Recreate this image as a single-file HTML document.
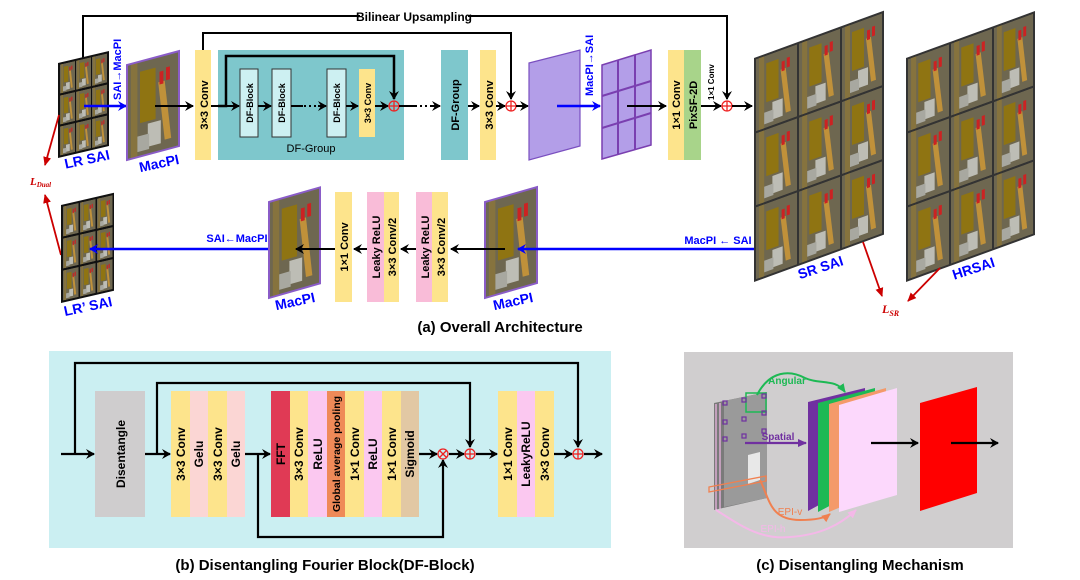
<!DOCTYPE html>
<html><head><meta charset="utf-8"><style>
html,body{margin:0;padding:0;background:#fff;}
svg{display:block;font-family:"Liberation Sans",Arial,sans-serif;}
.b{font-weight:bold;}
</style></head><body>
<svg width="1080" height="580" viewBox="0 0 1080 580" xmlns="http://www.w3.org/2000/svg">
<defs>
<marker id="ak" markerWidth="10" markerHeight="10" refX="8" refY="5" orient="auto" markerUnits="userSpaceOnUse"><path d="M0,0 L9,5 L0,10 L3,5 Z" fill="#000"/></marker>
<marker id="ab" markerWidth="10" markerHeight="10" refX="8" refY="5" orient="auto" markerUnits="userSpaceOnUse"><path d="M0,0 L9,5 L0,10 L3,5 Z" fill="#00f"/></marker>
<marker id="ar" markerWidth="10" markerHeight="10" refX="8" refY="5" orient="auto" markerUnits="userSpaceOnUse"><path d="M0,1 L9,5 L0,9 Z" fill="#c00"/></marker>
<marker id="ag" markerWidth="10" markerHeight="10" refX="8" refY="5" orient="auto" markerUnits="userSpaceOnUse"><path d="M0,1 L9,5 L0,9 Z" fill="#1db954"/></marker>
<marker id="ap" markerWidth="10" markerHeight="10" refX="8" refY="5" orient="auto" markerUnits="userSpaceOnUse"><path d="M0,1 L9,5 L0,9 Z" fill="#7030a0"/></marker>
<marker id="ao" markerWidth="10" markerHeight="10" refX="8" refY="5" orient="auto" markerUnits="userSpaceOnUse"><path d="M0,1 L9,5 L0,9 Z" fill="#f08050"/></marker>
<marker id="api" markerWidth="10" markerHeight="10" refX="8" refY="5" orient="auto" markerUnits="userSpaceOnUse"><path d="M0,1 L9,5 L0,9 Z" fill="#f4b8e8"/></marker>
<symbol id="ph" viewBox="0 0 40 74" preserveAspectRatio="none">
<rect width="40" height="74" fill="#6e6750"/>
<rect x="3" y="0" width="5" height="74" fill="#86733e"/>
<rect x="10" y="8" width="12" height="40" fill="#8f7412"/>
<polygon points="24,20 29,20 34,66 29,66" fill="#c0913a"/>
<rect x="16" y="50" width="10" height="18" fill="#bdbdb5"/>
<rect x="8" y="58" width="9" height="12" fill="#a8a8a0"/>
<rect x="25" y="12" width="3" height="10" fill="#c22"/><rect x="30" y="10" width="3" height="10" fill="#c22"/>
</symbol>
</defs>

<!-- ===== Panel (a) top ===== -->
<polyline points="83,63 83,16 360,16" fill="none" stroke="#000" stroke-width="2"/>
<polyline points="468,16 727,16 727,99" fill="none" stroke="#000" stroke-width="2" marker-end="url(#ak)"/>
<text x="414" y="21" font-size="12" class="b" text-anchor="middle">Bilinear Upsampling</text>

<g transform="translate(58,63) skewY(-13.2)">
<rect width="51" height="95" fill="#111"/>
<use href="#ph" x="2" y="2" width="15" height="29"/><use href="#ph" x="18" y="2" width="15" height="29"/><use href="#ph" x="34" y="2" width="15" height="29"/>
<use href="#ph" x="2" y="33" width="15" height="29"/><use href="#ph" x="18" y="33" width="15" height="29"/><use href="#ph" x="34" y="33" width="15" height="29"/>
<use href="#ph" x="2" y="64" width="15" height="29"/><use href="#ph" x="18" y="64" width="15" height="29"/><use href="#ph" x="34" y="64" width="15" height="29"/>
</g>
<text transform="translate(88,164) rotate(-12)" font-size="14" class="b" fill="#00f" text-anchor="middle">LR SAI</text>
<line x1="84" y1="106" x2="126" y2="106" stroke="#00f" stroke-width="2.5" marker-end="url(#ab)"/>
<text transform="translate(121,100) rotate(-90)" font-size="11" class="b" fill="#00f">SAI→MacPI</text>

<g transform="translate(127,65) skewY(-15)">
<use href="#ph" x="0" y="0" width="52" height="95"/>
<rect width="52" height="95" fill="none" stroke="#8a5cc8" stroke-width="2"/>
</g>
<text transform="translate(160,168) rotate(-12)" font-size="14" class="b" fill="#00f" text-anchor="middle">MacPI</text>
<line x1="155" y1="106" x2="193" y2="106" stroke="#000" stroke-width="2" marker-end="url(#ak)"/>

<rect x="195" y="50" width="16" height="110" fill="#fde48c"/>
<text transform="translate(208,105) rotate(-90)" font-size="11" class="b" text-anchor="middle">3×3  Conv</text>
<polyline points="203,50 203,33 511,33 511,99" fill="none" stroke="#000" stroke-width="2" marker-end="url(#ak)"/>
<line x1="211" y1="106" x2="218" y2="106" stroke="#000" stroke-width="2"/>

<rect x="218" y="50" width="186" height="110" fill="#7ec7cc"/>
<polyline points="218,106 226,106 226,56 394,56 394,99" fill="none" stroke="#000" stroke-width="2.5" marker-end="url(#ak)"/>
<line x1="226" y1="106" x2="239" y2="106" stroke="#000" stroke-width="2" marker-end="url(#ak)"/>
<rect x="240" y="69" width="18" height="68" fill="#cdf0f2" stroke="#333" stroke-width="1"/>
<text transform="translate(253,103) rotate(-90)" font-size="9" class="b" text-anchor="middle">DF-Block</text>
<line x1="258" y1="106" x2="271" y2="106" stroke="#000" stroke-width="2" marker-end="url(#ak)"/>
<rect x="272" y="69" width="19" height="68" fill="#cdf0f2" stroke="#333" stroke-width="1"/>
<text transform="translate(285,103) rotate(-90)" font-size="9" class="b" text-anchor="middle">DF-Block</text>
<line x1="291" y1="106" x2="303" y2="106" stroke="#000" stroke-width="2"/>
<line x1="304" y1="106" x2="318" y2="106" stroke="#000" stroke-width="2" stroke-dasharray="2,3"/>
<line x1="318" y1="106" x2="326" y2="106" stroke="#000" stroke-width="2" marker-end="url(#ak)"/>
<rect x="327" y="69" width="19" height="68" fill="#cdf0f2" stroke="#333" stroke-width="1"/>
<text transform="translate(340,103) rotate(-90)" font-size="9" class="b" text-anchor="middle">DF-Block</text>
<line x1="346" y1="106" x2="358" y2="106" stroke="#000" stroke-width="2" marker-end="url(#ak)"/>
<rect x="359" y="69" width="16" height="68" fill="#fde48c"/>
<text transform="translate(371,103) rotate(-90)" font-size="9" class="b" text-anchor="middle">3×3  Conv</text>
<line x1="375" y1="106" x2="388" y2="106" stroke="#000" stroke-width="2" marker-end="url(#ak)"/>
<text x="311" y="152" font-size="11" text-anchor="middle">DF-Group</text>

<g fill="none" stroke="#e22" stroke-width="1.3"><circle cx="394" cy="106" r="5"/><line x1="389" y1="106" x2="399" y2="106"/><line x1="394" y1="101" x2="394" y2="111"/></g>
<line x1="399" y1="106" x2="415" y2="106" stroke="#000" stroke-width="2"/>
<line x1="415" y1="106" x2="430" y2="106" stroke="#000" stroke-width="2" stroke-dasharray="2,3"/>
<line x1="430" y1="106" x2="440" y2="106" stroke="#000" stroke-width="2" marker-end="url(#ak)"/>
<rect x="441" y="50" width="27" height="110" fill="#7ec7cc"/>
<text transform="translate(459,105) rotate(-90)" font-size="11" class="b" text-anchor="middle">DF-Group</text>
<line x1="468" y1="106" x2="479" y2="106" stroke="#000" stroke-width="2" marker-end="url(#ak)"/>
<rect x="480" y="50" width="16" height="110" fill="#fde48c"/>
<text transform="translate(493,105) rotate(-90)" font-size="11" class="b" text-anchor="middle">3×3  Conv</text>
<line x1="496" y1="106" x2="505" y2="106" stroke="#000" stroke-width="2" marker-end="url(#ak)"/>
<g fill="none" stroke="#e22" stroke-width="1.3"><circle cx="511" cy="106" r="5"/><line x1="506" y1="106" x2="516" y2="106"/><line x1="511" y1="101" x2="511" y2="111"/></g>
<line x1="516" y1="106" x2="528" y2="106" stroke="#000" stroke-width="2" marker-end="url(#ak)"/>

<polygon points="529,63 580,50 580,146 529,160" fill="#b39ee8" stroke="#7a4fc0" stroke-width="1.2"/>
<line x1="557" y1="106" x2="600" y2="106" stroke="#00f" stroke-width="2.5" marker-end="url(#ab)"/>
<text transform="translate(593,96) rotate(-90)" font-size="11" class="b" fill="#00f">MacPI→SAI</text>
<polygon points="602,65 651,50 651,145 602,159" fill="#b39ee8" stroke="#7a3fb0" stroke-width="1.5"/>
<g stroke="#7a3fb0" stroke-width="2">
<line x1="618" y1="60" x2="618" y2="154"/><line x1="635" y1="55" x2="635" y2="150"/>
<line x1="602" y1="96" x2="651" y2="81"/><line x1="602" y1="128" x2="651" y2="113"/>
</g>
<line x1="627" y1="106" x2="666" y2="106" stroke="#000" stroke-width="2" marker-end="url(#ak)"/>
<rect x="668" y="50" width="16" height="110" fill="#fde48c"/>
<rect x="684" y="50" width="17" height="110" fill="#a8d48a"/>
<text transform="translate(680,105) rotate(-90)" font-size="11" class="b" text-anchor="middle">1×1  Conv</text>
<text transform="translate(697,105) rotate(-90)" font-size="11" class="b" text-anchor="middle">PixSF-2D</text>
<text transform="translate(714,100) rotate(-90)" font-size="8" class="b">1×1  Conv</text>
<line x1="701" y1="106" x2="721" y2="106" stroke="#000" stroke-width="2" marker-end="url(#ak)"/>
<g fill="none" stroke="#e22" stroke-width="1.3"><circle cx="727" cy="106" r="5"/><line x1="722" y1="106" x2="732" y2="106"/><line x1="727" y1="101" x2="727" y2="111"/></g>
<line x1="732" y1="106" x2="752" y2="106" stroke="#000" stroke-width="2" marker-end="url(#ak)"/>

<g transform="translate(754,58) skewY(-20)">
<rect width="130" height="224" fill="#333"/>
<use href="#ph" x="2" y="2" width="41" height="72"/><use href="#ph" x="45" y="2" width="41" height="72"/><use href="#ph" x="88" y="2" width="40" height="72"/>
<use href="#ph" x="2" y="76" width="41" height="72"/><use href="#ph" x="45" y="76" width="41" height="72"/><use href="#ph" x="88" y="76" width="40" height="72"/>
<use href="#ph" x="2" y="150" width="41" height="72"/><use href="#ph" x="45" y="150" width="41" height="72"/><use href="#ph" x="88" y="150" width="40" height="72"/>
</g>
<text transform="translate(822,272) rotate(-18)" font-size="14" class="b" fill="#00f" text-anchor="middle">SR SAI</text>
<g transform="translate(906,58) skewY(-20)">
<rect width="129" height="224" fill="#333"/>
<use href="#ph" x="2" y="2" width="41" height="72"/><use href="#ph" x="45" y="2" width="41" height="72"/><use href="#ph" x="88" y="2" width="39" height="72"/>
<use href="#ph" x="2" y="76" width="41" height="72"/><use href="#ph" x="45" y="76" width="41" height="72"/><use href="#ph" x="88" y="76" width="39" height="72"/>
<use href="#ph" x="2" y="150" width="41" height="72"/><use href="#ph" x="45" y="150" width="41" height="72"/><use href="#ph" x="88" y="150" width="39" height="72"/>
</g>
<text transform="translate(975,273) rotate(-18)" font-size="14" class="b" fill="#00f" text-anchor="middle">HRSAI</text>
<line x1="863" y1="242" x2="882" y2="296" stroke="#c00" stroke-width="1.8" marker-end="url(#ar)"/>
<line x1="940" y1="268" x2="908" y2="301" stroke="#c00" stroke-width="1.8" marker-end="url(#ar)"/>
<text x="882" y="313" font-size="12" class="b" fill="#c00" font-style="italic" font-family="Liberation Serif,serif">L<tspan font-size="8" dy="3">SR</tspan></text>

<line x1="59" y1="115" x2="45" y2="165" stroke="#c00" stroke-width="1.8" marker-end="url(#ar)"/>
<line x1="61" y1="255" x2="45" y2="195" stroke="#c00" stroke-width="1.8" marker-end="url(#ar)"/>
<text x="30" y="185" font-size="11" class="b" fill="#c00" font-style="italic" font-family="Liberation Serif,serif">L<tspan font-size="7" dy="2">Dual</tspan></text>

<g transform="translate(61,205) skewY(-13)">
<rect width="53" height="98" fill="#111"/>
<use href="#ph" x="2" y="2" width="15.5" height="30"/><use href="#ph" x="19" y="2" width="15.5" height="30"/><use href="#ph" x="36" y="2" width="15.5" height="30"/>
<use href="#ph" x="2" y="34" width="15.5" height="30"/><use href="#ph" x="19" y="34" width="15.5" height="30"/><use href="#ph" x="36" y="34" width="15.5" height="30"/>
<use href="#ph" x="2" y="66" width="15.5" height="30"/><use href="#ph" x="19" y="66" width="15.5" height="30"/><use href="#ph" x="36" y="66" width="15.5" height="30"/>
</g>
<text transform="translate(89,311) rotate(-12)" font-size="14" class="b" fill="#00f" text-anchor="middle">LR’ SAI</text>
<line x1="269" y1="249" x2="90" y2="249" stroke="#00f" stroke-width="2.5" marker-end="url(#ab)"/>
<text x="237" y="242" font-size="11" class="b" fill="#00f" text-anchor="middle">SAI←MacPI</text>
<g transform="translate(269,202) skewY(-16)">
<use href="#ph" x="0" y="0" width="51" height="96"/>
<rect width="51" height="96" fill="none" stroke="#8a5cc8" stroke-width="2"/>
</g>
<text transform="translate(296,306) rotate(-12)" font-size="14" class="b" fill="#00f" text-anchor="middle">MacPI</text>
<line x1="335" y1="249" x2="296" y2="249" stroke="#000" stroke-width="2" marker-end="url(#ak)"/>
<rect x="335" y="192" width="17" height="110" fill="#fde48c"/>
<text transform="translate(348,247) rotate(-90)" font-size="11" class="b" text-anchor="middle">1×1 Conv</text>
<line x1="367" y1="249" x2="354" y2="249" stroke="#000" stroke-width="2" marker-end="url(#ak)"/>
<rect x="367" y="192" width="17" height="110" fill="#f9bcd8"/>
<rect x="384" y="192" width="15" height="110" fill="#fde48c"/>
<text transform="translate(380,247) rotate(-90)" font-size="11" class="b" text-anchor="middle">Leaky ReLU</text>
<text transform="translate(396,247) rotate(-90)" font-size="11" class="b" text-anchor="middle">3×3 Conv/2</text>
<line x1="416" y1="249" x2="401" y2="249" stroke="#000" stroke-width="2" marker-end="url(#ak)"/>
<rect x="416" y="192" width="16" height="110" fill="#f9bcd8"/>
<rect x="432" y="192" width="16" height="110" fill="#fde48c"/>
<text transform="translate(429,247) rotate(-90)" font-size="11" class="b" text-anchor="middle">Leaky ReLU</text>
<text transform="translate(445,247) rotate(-90)" font-size="11" class="b" text-anchor="middle">3×3 Conv/2</text>
<g transform="translate(485,202) skewY(-16)">
<use href="#ph" x="0" y="0" width="52" height="96"/>
<rect width="52" height="96" fill="none" stroke="#8a5cc8" stroke-width="2"/>
</g>
<line x1="505" y1="249" x2="451" y2="249" stroke="#000" stroke-width="2" marker-end="url(#ak)"/>
<line x1="754" y1="249" x2="518" y2="249" stroke="#00f" stroke-width="2.5" marker-end="url(#ab)"/>
<text x="718" y="244" font-size="11" class="b" fill="#00f" text-anchor="middle">MacPI ← SAI</text>
<text transform="translate(514,306) rotate(-12)" font-size="14" class="b" fill="#00f" text-anchor="middle">MacPI</text>
<text x="500" y="332" font-size="15" class="b" text-anchor="middle">(a) Overall Architecture</text>

<!-- ===== Panel (b) ===== -->
<rect x="49" y="351" width="562" height="197" fill="#cbeff2"/>
<rect x="95" y="391" width="50" height="126" fill="#cfcdce"/>
<text transform="translate(125,454) rotate(-90)" font-size="12" class="b" text-anchor="middle">Disentangle</text>
<g font-size="12" class="b">
<rect x="171" y="391" width="19" height="126" fill="#fde48c"/><rect x="190" y="391" width="18" height="126" fill="#fbd6d4"/>
<rect x="208" y="391" width="19" height="126" fill="#fde48c"/><rect x="227" y="391" width="18" height="126" fill="#fbd6d4"/>
<text transform="translate(185,454) rotate(-90)" text-anchor="middle">3×3 Conv</text>
<text transform="translate(203,454) rotate(-90)" text-anchor="middle">Gelu</text>
<text transform="translate(222,454) rotate(-90)" text-anchor="middle">3×3 Conv</text>
<text transform="translate(240,454) rotate(-90)" text-anchor="middle">Gelu</text>

<rect x="271" y="391" width="19" height="126" fill="#e03a55"/>
<rect x="290" y="391" width="18" height="126" fill="#fde48c"/>
<rect x="308" y="391" width="19" height="126" fill="#fbc8f0"/>
<rect x="327" y="391" width="18" height="126" fill="#ef8a58"/>
<rect x="345" y="391" width="19" height="126" fill="#fde48c"/>
<rect x="364" y="391" width="18" height="126" fill="#fbc8f0"/>
<rect x="382" y="391" width="19" height="126" fill="#fde48c"/>
<rect x="401" y="391" width="18" height="126" fill="#e2c8a4"/>
<text transform="translate(285,454) rotate(-90)" text-anchor="middle">FFT</text>
<text transform="translate(303,454) rotate(-90)" text-anchor="middle">3×3 Conv</text>
<text transform="translate(322,454) rotate(-90)" text-anchor="middle">ReLU</text>
<text transform="translate(340,454) rotate(-90)" text-anchor="middle" font-size="10.5">Global average pooling</text>
<text transform="translate(359,454) rotate(-90)" text-anchor="middle">1×1 Conv</text>
<text transform="translate(377,454) rotate(-90)" text-anchor="middle">ReLU</text>
<text transform="translate(396,454) rotate(-90)" text-anchor="middle">1×1 Conv</text>
<text transform="translate(414,454) rotate(-90)" text-anchor="middle">Sigmoid</text>

<rect x="498" y="391" width="19" height="126" fill="#fde48c"/>
<rect x="517" y="391" width="18" height="126" fill="#fbc8f0"/>
<rect x="535" y="391" width="19" height="126" fill="#fde48c"/>
<text transform="translate(512,454) rotate(-90)" text-anchor="middle">1×1 Conv</text>
<text transform="translate(530,454) rotate(-90)" text-anchor="middle">LeakyReLU</text>
<text transform="translate(549,454) rotate(-90)" text-anchor="middle">3×3 Conv</text>
</g>
<g fill="none" stroke="#000" stroke-width="2.2">
<line x1="61" y1="454" x2="94" y2="454" marker-end="url(#ak)"/>
<polyline points="75,454 75,363 578,363 578,447" marker-end="url(#ak)"/>
<line x1="145" y1="454" x2="170" y2="454" marker-end="url(#ak)"/>
<polyline points="157,454 157,383 470,383 470,447" marker-end="url(#ak)"/>
<line x1="245" y1="454" x2="270" y2="454" marker-end="url(#ak)"/>
<polyline points="258,454 258,537 443,537 443,460" marker-end="url(#ak)"/>
<line x1="419" y1="454" x2="437" y2="454" marker-end="url(#ak)"/>
<line x1="449" y1="454" x2="464" y2="454" marker-end="url(#ak)"/>
<line x1="476" y1="454" x2="497" y2="454" marker-end="url(#ak)"/>
<line x1="554" y1="454" x2="572" y2="454" marker-end="url(#ak)"/>
<line x1="584" y1="454" x2="602" y2="454" marker-end="url(#ak)"/>
</g>
<g fill="none" stroke="#e22" stroke-width="1.3">
<circle cx="443" cy="454" r="5"/><line x1="439.5" y1="450.5" x2="446.5" y2="457.5"/><line x1="446.5" y1="450.5" x2="439.5" y2="457.5"/>
<circle cx="470" cy="454" r="5"/><line x1="465" y1="454" x2="475" y2="454"/><line x1="470" y1="449" x2="470" y2="459"/>
<circle cx="578" cy="454" r="5"/><line x1="573" y1="454" x2="583" y2="454"/><line x1="578" y1="449" x2="578" y2="459"/>
</g>
<text x="325" y="570" font-size="15" class="b" text-anchor="middle">(b) Disentangling Fourier Block(DF-Block)</text>

<!-- ===== Panel (c) ===== -->
<rect x="684" y="352" width="329" height="196" fill="#d0cecf"/>
<polygon points="714,403 767,392 767,498 714,510" fill="#7a7a7a"/>
<polygon points="724,401 767,392 767,498 724,507" fill="#9a9a9a"/>
<polygon points="748,455 760,452 760,480 748,484" fill="#e8e8e8"/>
<line x1="716" y1="404" x2="716" y2="510" stroke="#f4b8e8" stroke-width="1.2"/>
<line x1="720" y1="403" x2="720" y2="509" stroke="#f4b8e8" stroke-width="1.2"/>
<polygon points="709,487 766,476 766,481 709,492" fill="none" stroke="#f08050" stroke-width="1.3"/>
<rect x="746" y="393" width="20" height="19" fill="none" stroke="#1db954" stroke-width="1.5"/>
<g fill="none" stroke="#7030a0" stroke-width="1.2">
<rect x="723" y="401" width="4" height="4"/><rect x="742" y="398" width="4" height="4"/><rect x="762" y="394" width="4" height="4"/>
<rect x="723" y="420" width="4" height="4"/><rect x="742" y="417" width="4" height="4"/><rect x="762" y="411" width="4" height="4"/>
<rect x="723" y="437" width="4" height="4"/><rect x="742" y="434" width="4" height="4"/><rect x="762" y="429" width="4" height="4"/>
</g>
<path d="M757,395 C770,370 790,370 805,378 C820,385 835,378 845,392" fill="none" stroke="#1db954" stroke-width="2" marker-end="url(#ag)"/>
<text x="787" y="384" font-size="10" class="b" fill="#1db954" text-anchor="middle">Angular</text>
<line x1="745" y1="443" x2="806" y2="443" stroke="#7030a0" stroke-width="2.2" marker-end="url(#ap)"/>
<text x="778" y="440" font-size="10" class="b" fill="#7030a0" text-anchor="middle">Spatial</text>
<path d="M760,480 C770,500 770,520 800,520 C815,520 825,518 830,514" fill="none" stroke="#f08050" stroke-width="2" marker-end="url(#ao)"/>
<text x="790" y="515" font-size="10" fill="#f08050" text-anchor="middle">EPI-v</text>
<path d="M716,510 C740,525 760,540 790,537 C820,535 840,525 856,510" fill="none" stroke="#f4b8e8" stroke-width="2" marker-end="url(#api)"/>
<text x="773" y="532" font-size="10" fill="#f4b8e8" text-anchor="middle">EPI-h</text>
<polygon points="808,402 865,388 865,480 808,511" fill="#7030a0"/>
<polygon points="818,403 875,388 875,482 818,512" fill="#1db954"/>
<polygon points="829,404 886,388 886,488 829,512" fill="#f49a6a"/>
<polygon points="839,405 897,388 897,495 839,512" fill="#fcd8fc"/>
<line x1="871" y1="443" x2="918" y2="443" stroke="#000" stroke-width="2.2" marker-end="url(#ak)"/>
<polygon points="920,403 977,387 977,493 920,511" fill="#ff0000"/>
<line x1="951" y1="443" x2="998" y2="443" stroke="#000" stroke-width="2.2" marker-end="url(#ak)"/>
<text x="860" y="570" font-size="15" class="b" text-anchor="middle">(c) Disentangling Mechanism</text>
</svg>
</body></html>
